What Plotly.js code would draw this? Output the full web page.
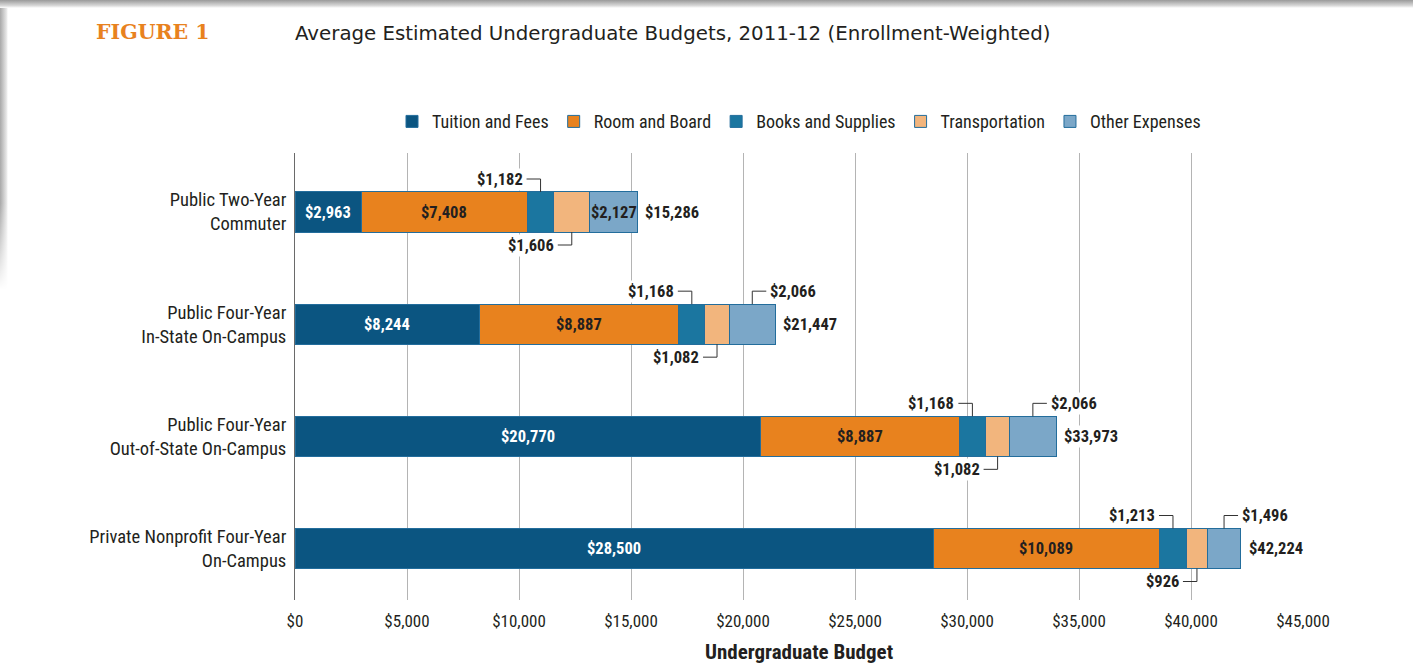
<!DOCTYPE html>
<html>
<head>
<meta charset="utf-8">
<script src="https://cdn.plot.ly/plotly-3.0.1.min.js"></script>
<style>
  html, body { margin: 0; padding: 0; background: #fff; }
  #chart { position: absolute; left: 0; top: 0; width: 1413px; height: 667px; }
  #shadowTop { position: absolute; left: 0; top: 0; width: 1413px; height: 8px;
    background: linear-gradient(to bottom, #9a9a9a, #d8d8d8 70%, #ffffff); pointer-events: none; }
  #shadowLeft { position: absolute; left: 0; top: 0; width: 8px; height: 290px;
    background: linear-gradient(to right, #a8a8a8, #e6e6e6 80%, #ffffff);
    -webkit-mask-image: linear-gradient(to bottom, #000 70%, transparent);
    mask-image: linear-gradient(to bottom, #000 70%, transparent); pointer-events: none; }
</style>
</head>
<body>
<div id="chart"></div>
<div id="shadowLeft"></div>
<div id="shadowTop"></div>
<script>
// ---- data ----
const categories = [
  "Public Two-Year<br>Commuter",
  "Public Four-Year<br>In-State On-Campus",
  "Public Four-Year<br>Out-of-State On-Campus",
  "Private Nonprofit Four-Year<br>On-Campus"
];
const tuitionFees      = [2963, 8244, 20770, 28500];
const roomBoard        = [7408, 8887, 8887, 10089];
const booksSupplies    = [1182, 1168, 1168, 1213];
const transportation   = [1606, 1082, 1082, 926];
const otherExpenses    = [2127, 2066, 2066, 1496];
const totals           = [15286, 21447, 33973, 42224];
const seriesNames = ["Tuition and Fees", "Room and Board", "Books and Supplies", "Transportation", "Other Expenses"];
const tickValues = [0, 5000, 10000, 15000, 20000, 25000, 30000, 35000, 40000, 45000];

// ---- style ----
const colors = ["#0b5581", "#e8821e", "#1b76a0", "#f2b57d", "#7ba7c8"];
const edge = "#236d9c";
const NARROW = "'Roboto Condensed', 'Open Sans', sans-serif";
const labelColor = "#231f20";
const LBL = 16.5;
// label placement per series, per row (style, not data)
const placement = [
  ["in", "in", "in", "in"],
  ["in", "in", "in", "in"],
  ["above", "above", "above", "above"],
  ["below", "below", "below", "below"],
  ["in", "aboveR", "aboveR", "aboveR"]
];
const insideColor = ["#ffffff", labelColor, labelColor, labelColor, labelColor];

const series = [tuitionFees, roomBoard, booksSupplies, transportation, otherExpenses];
const rows = categories.map((c, i) => i);
const fmt = v => "$" + v.toLocaleString("en-US");

const barW = 0.357;
const traces = series.map((vals, s) => ({
  type: "bar",
  orientation: "h",
  name: seriesNames[s],
  y: rows,
  x: vals,
  width: barW,
  marker: { color: colors[s], line: { color: edge, width: 1 } },
  hoverinfo: "skip"
}));

const annotations = [];
const shapes = [];
const halfPx = 20, legPx = 33, armPx = 14, gap = 2;
const boldFont = c => ({ family: NARROW, size: LBL, color: c, weight: "bold" });

rows.forEach(r => {
  let cum = 0;
  series.forEach((vals, s) => {
    const v = vals[r];
    const mid = cum + v / 2;
    const p = placement[s][r];
    if (p === "in") {
      annotations.push({ x: mid, y: r, xref: "x", yref: "y", text: fmt(v), showarrow: false,
        font: boldFont(insideColor[s]) });
    } else if (p === "above" || p === "below") {
      const sgn = p === "above" ? 1 : -1;
      shapes.push({ type: "path", xref: "x", yref: "y", xsizemode: "pixel", ysizemode: "pixel",
        xanchor: mid, yanchor: r, path: `M0,${sgn * halfPx} L0,${sgn * legPx} L${-armPx},${sgn * legPx}`,
        line: { color: "#333", width: 1 } });
      annotations.push({ x: mid, y: r, xref: "x", yref: "y", text: fmt(v), showarrow: false,
        xanchor: "right", yanchor: "middle", xshift: -(armPx + gap), yshift: sgn * legPx, bgcolor: "#fff",
        font: boldFont(labelColor) });
    } else if (p === "aboveR") {
      shapes.push({ type: "path", xref: "x", yref: "y", xsizemode: "pixel", ysizemode: "pixel",
        xanchor: mid, yanchor: r, path: `M0,${halfPx} L0,${legPx} L${armPx},${legPx}`,
        line: { color: "#333", width: 1 } });
      annotations.push({ x: mid, y: r, xref: "x", yref: "y", text: fmt(v), showarrow: false,
        xanchor: "left", yanchor: "middle", xshift: (armPx + gap), yshift: legPx, bgcolor: "#fff",
        font: boldFont(labelColor) });
    }
    cum += v;
  });
  annotations.push({ x: totals[r], y: r, xref: "x", yref: "y", text: fmt(totals[r]), showarrow: false,
    xanchor: "left", yanchor: "middle", xshift: 6, bgcolor: "#fff",
    font: boldFont(labelColor) });
});

annotations.push({ xref: "paper", yref: "paper", x: -0.1994, y: 1.2718, xanchor: "left", yanchor: "middle",
  text: "FIGURE 1", showarrow: false,
  font: { family: "'DejaVu Serif', 'Liberation Serif', serif", size: 20.5, color: "#e8821e", weight: "bold" } });

const layout = {
  width: 1413, height: 667,
  margin: { l: 295, r: 110, t: 153, b: 67 },
  paper_bgcolor: "rgba(0,0,0,0)",
  plot_bgcolor: "rgba(0,0,0,0)",
  barmode: "stack",
  showlegend: true,
  title: { text: "Average Estimated Undergraduate Budgets, 2011-12 (Enrollment-Weighted)",
    x: 295 / 1413, xanchor: "left", xref: "container", y: 1 - 33 / 667, yanchor: "middle", yref: "container",
    font: { family: "'DejaVu Sans', 'Noto Sans', sans-serif", size: 19.8, color: "#231f20" } },
  legend: { orientation: "h", x: 0.5, xanchor: "center", y: 1.07, yanchor: "middle",
    font: { family: NARROW, size: 18, color: "#231f20" }, traceorder: "normal", itemclick: false },
  xaxis: {
    range: [0, 45000], tickvals: tickValues, ticktext: tickValues.map(fmt),
    showgrid: true, gridcolor: "#b4b4b4", gridwidth: 1,
    zeroline: false, showline: false, ticks: "", ticklabelstandoff: 9,
    tickfont: { family: NARROW, size: 17, color: "#231f20" },
    title: { text: "Undergraduate Budget", standoff: 14,
      font: { family: NARROW, size: 21, color: "#231f20", weight: "bold" } },
    fixedrange: true
  },
  yaxis: {
    range: [3.459, -0.526], tickvals: rows, ticktext: categories,
    showgrid: false, zeroline: false, showline: true, linecolor: "#6a6a6a", linewidth: 1,
    ticks: "", ticklabelstandoff: 4,
    tickfont: { family: NARROW, size: 18.5, color: "#231f20" },
    fixedrange: true
  },
  annotations: annotations,
  shapes: shapes
};

Plotly.newPlot("chart", traces, layout, { displayModeBar: false, staticPlot: true });
</script>
</body>
</html>
